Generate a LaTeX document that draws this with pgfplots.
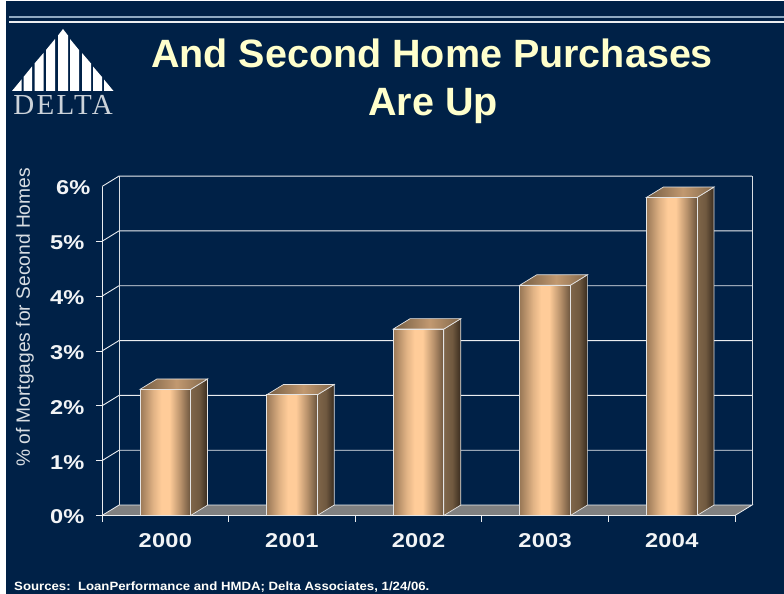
\documentclass[border=0pt]{standalone}
\usepackage{fontspec}
\setmainfont{Liberation Sans}
\newfontfamily\ticklabelfont[FakeStretch=1.18,LetterSpace=1.5]{Liberation Sans}
\newfontfamily\sourcefont[FakeStretch=1.1]{Liberation Sans}
\newfontfamily\serifmark[LetterSpace=8]{Liberation Serif}
\usepackage{pgfplots}
\pgfplotsset{compat=1.18}
\definecolor{navy}{HTML}{002147}
\definecolor{titlecream}{HTML}{FFFFCC}
\definecolor{rulesteel}{HTML}{8FA9C2}
\definecolor{floorgrey}{HTML}{808080}
\definecolor{edgelight}{HTML}{E4E4E4}
\pgfdeclarehorizontalshading{barface}{100bp}{rgb(0bp)=(0.60,0.47,0.34);
  rgb(25bp)=(0.60,0.47,0.34); rgb(38bp)=(0.88,0.70,0.52); rgb(46bp)=(1,0.80,0.60);
  rgb(54bp)=(1,0.80,0.60); rgb(65bp)=(0.72,0.57,0.42); rgb(75bp)=(0.42,0.33,0.24); rgb(100bp)=(0.42,0.33,0.24)}
\pgfdeclarehorizontalshading{barside}{100bp}{rgb(0bp)=(0.50,0.40,0.29);
  rgb(25bp)=(0.50,0.40,0.29); rgb(50bp)=(0.44,0.35,0.25); rgb(75bp)=(0.22,0.17,0.12); rgb(100bp)=(0.22,0.17,0.12)}
\pgfdeclarehorizontalshading{bartop}{100bp}{rgb(0bp)=(0.45,0.36,0.26);
  rgb(25bp)=(0.45,0.36,0.26); rgb(52bp)=(0.76,0.60,0.44); rgb(75bp)=(0.50,0.40,0.29); rgb(100bp)=(0.50,0.40,0.29)}

% Depth of the oblique projection, in data units
\def\dx{0.134}
\def\dy{0.19}
\def\hw{0.2}
% One bar: side and top faces, then the front face, from category position and value
\newcommand{\threedbar}[2]{%
  \pgfmathsetmacro\xa{#1-\hw}%
  \pgfmathsetmacro\xb{#1+\hw}%
  \pgfmathsetmacro\xc{#1+\hw+\dx}%
  \pgfmathsetmacro\xd{#1-\hw+\dx}%
  \pgfmathsetmacro\yt{#2+\dy}%
  \edef\next{%
    \noexpand\addplot[shade,shading=barside,draw=edgelight,line width=0.7pt,mark=none]
      coordinates {(\xb,0) (\xc,\dy) (\xc,\yt) (\xb,#2)} --cycle;
    \noexpand\addplot[shade,shading=bartop,draw=edgelight,line width=0.7pt,mark=none]
      coordinates {(\xa,#2) (\xb,#2) (\xc,\yt) (\xd,\yt)} --cycle;
    \noexpand\addplot[ybar,bar width=50.6pt,shade,shading=barface,draw=edgelight,line width=0.9pt]
      coordinates {(#1,#2)};
  }\next}
% Depth line and back-wall gridline of one percentage level
\newcommand{\walllevel}[1]{%
  \pgfmathsetmacro\yt{#1+\dy}%
  \edef\next{%
    \noexpand\addplot[white!92!navy,line width=0.9pt,mark=none]
      coordinates {(-0.5,#1) (-0.366,\yt) (4.634,\yt)};
  }\next}

\begin{document}
\begin{tikzpicture}[x=1pt,y=1pt]
\path[use as bounding box] (0,0) rectangle (784,594);
\fill[white] (0,0) rectangle (784,594);
\fill[navy] (6,0) rectangle (784,593);

% Header rules
\fill[rulesteel] (9,575.6) rectangle (784,578);
\fill[white!92!navy] (9,571.4) rectangle (784,573);

% Logo: fluted triangle over the firm name
\begin{scope}[shift={(0,594)},y=-1pt]
  \fill[white] (12,91) -- (21.5,79.5) -- (21.5,91) -- cycle;
  \fill[white] (23.5,91) -- (23.5,77) -- (32,66.5) -- (32,91) -- cycle;
  \fill[white] (34.5,91) -- (34.5,63.5) -- (43.5,53) -- (43.5,91) -- cycle;
  \fill[white] (46,91) -- (46,50) -- (55,39) -- (55,91) -- cycle;
  \fill[white] (58,91) -- (58,35.5) -- (63,29) -- (68,35.5) -- (68,91) -- cycle;
  \fill[white] (70,91) -- (70,39) -- (79,50) -- (79,91) -- cycle;
  \fill[white] (82,91) -- (82,53) -- (91,63.5) -- (91,91) -- cycle;
  \fill[white] (93,91) -- (93,66.5) -- (102,77) -- (102,91) -- cycle;
  \fill[white] (104,91) -- (104,79.5) -- (113.5,91) -- cycle;
  \node[anchor=base,inner sep=0pt,text=white!80!navy,font=\serifmark\fontsize{29}{29}\selectfont] at (63,115) {DELTA};
\end{scope}

% Title
\node[anchor=base,inner sep=0pt,text=titlecream,font=\bfseries\fontsize{39.5}{39.5}\selectfont] at (432,526) {And Second Home Purchases};
\node[anchor=base,inner sep=0pt,text=titlecream,font=\bfseries\fontsize{39.5}{39.5}\selectfont] at (433,478) {Are Up};

% Source line
\node[anchor=base west,inner sep=0pt,text=white!92!titlecream,font=\sourcefont\bfseries\fontsize{12}{12}\selectfont] at (14,3.5) {Sources:\ \ LoanPerformance and HMDA; Delta Associates, 1/24/06.};

\begin{axis}[
  at={(102pt,78.5pt)}, anchor=south west,
  scale only axis, width=633pt, height=329pt,
  xmin=-0.5, xmax=4.5, ymin=0, ymax=6,
  clip=false,
  axis x line*=bottom, axis y line*=left,
  axis line style={white!92!navy,line width=0.9pt,-},
  tick align=outside,
  xtick={0,1,2,3,4},
  xticklabels={2000,2001,2002,2003,2004},
  major x tick style={draw=none},
  minor xtick={-0.5,0.5,1.5,2.5,3.5,4.5},
  minor tick length=6pt,
  minor x tick style={white!92!navy,line width=0.9pt},
  ytick={0,1,2,3,4,5},
  extra y ticks={6},
  extra y tick style={major tick length=0pt},
  major tick length=6pt,
  ytick style={white!92!navy,line width=0.9pt},
  /pgf/number format/assume math mode=true,
  yticklabel={\pgfmathprintnumber{\tick}\%},
  x tick label style={text=white!95!navy,yshift=-9pt,font=\ticklabelfont\bfseries\fontsize{20}{20}\selectfont},
  y tick label style={text=white!95!navy,xshift=-8pt,yshift=-1.5pt,font=\ticklabelfont\bfseries\fontsize{20}{20}\selectfont},
  ylabel={\% of Mortgages for Second Homes},
  every axis y label/.style={at={(axis description cs:-0.1216,0.602)},rotate=90,anchor=center},
  ylabel style={text=white!85!navy,font=\fontsize{19.2}{19.2}\selectfont},
]
% Back wall: edges and levels
\walllevel{1}\walllevel{2}\walllevel{3}\walllevel{4}\walllevel{5}\walllevel{6}
\addplot[white!85!navy,line width=0.9pt,mark=none] coordinates {(-0.366,0.19) (-0.366,6.19)};
\addplot[white!85!navy,line width=0.9pt,mark=none] coordinates {(4.634,0.19) (4.634,6.19)};

% Floor
\addplot[fill=floorgrey,draw=white!92!navy,line width=0.8pt,mark=none]
  coordinates {(-0.5,0) (4.5,0) (4.634,0.19) (-0.366,0.19)} --cycle;

\threedbar{0}{2.3}
\threedbar{1}{2.2}
\threedbar{2}{3.4}
\threedbar{3}{4.2}
\threedbar{4}{5.8}
\end{axis}
\end{tikzpicture}
\end{document}
